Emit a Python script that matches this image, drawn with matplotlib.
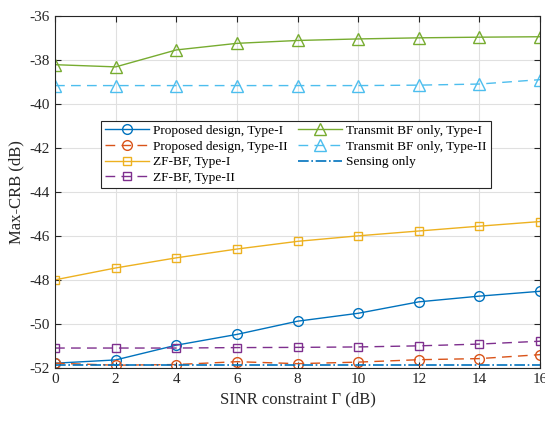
import matplotlib
matplotlib.use("Agg")
import matplotlib.pyplot as plt

plt.rcParams['font.family'] = ['Liberation Serif', 'DejaVu Serif']
plt.rcParams['axes.unicode_minus'] = False

sinr = [0, 2, 4, 6, 8, 10, 12, 14, 16]
proposed_I = [-51.79, -51.64, -50.97, -50.48, -49.88, -49.52, -49.0, -48.74, -48.52]
proposed_II = [-51.79, -51.88, -51.85, -51.72, -51.81, -51.74, -51.63, -51.58, -51.40]
zf_I = [-48.0, -47.46, -47.0, -46.6, -46.25, -46.0, -45.78, -45.56, -45.35]
zf_II = [-51.1, -51.1, -51.1, -51.08, -51.07, -51.05, -51.0, -50.92, -50.79]
tbf_I = [-38.22, -38.32, -37.55, -37.25, -37.12, -37.05, -37.0, -36.97, -36.95]
tbf_II = [-39.17, -39.17, -39.17, -39.17, -39.17, -39.17, -39.15, -39.1, -38.9]
sensing = [-51.87] * 9

fig = plt.figure(figsize=(5.45, 4.4), dpi=100)
ax = fig.add_axes([0.101, 0.164, 0.89, 0.8])

lw = 1.0
ms = 7
dash = (7, 4.5)
ax.plot(sinr, proposed_I, '-', color='#0072BD', marker='o', mfc='none', ms=ms, lw=lw, label='Proposed design, Type-I')
ax.plot(sinr, proposed_II, '--', color='#D95319', marker='o', mfc='none', ms=ms, lw=lw, dashes=dash, label='Proposed design, Type-II')
ax.plot(sinr, zf_I, '-', color='#EDB120', marker='s', mfc='none', ms=6, lw=lw, label='ZF-BF, Type-I')
ax.plot(sinr, zf_II, '--', color='#7E2F8E', marker='s', mfc='none', ms=6, lw=lw, dashes=dash, label='ZF-BF, Type-II')
ax.plot(sinr, tbf_I, '-', color='#77AC30', marker='^', mfc='none', ms=8, lw=lw, label='Transmit BF only, Type-I')
ax.plot(sinr, tbf_II, '--', color='#4DBEEE', marker='^', mfc='none', ms=8, lw=lw, dashes=dash, label='Transmit BF only, Type-II')
ax.plot(sinr, sensing, '-.', color='#0072BD', lw=1.2, label='Sensing only')

ax.set_xlim(0, 16)
ax.set_ylim(-52, -36)
ax.set_xticks(sinr)
ax.set_yticks(range(-52, -35, 2))
ax.grid(True, color='#e0e0e0', lw=0.8)
ax.set_axisbelow(True)
ax.tick_params(direction='in', top=True, right=True, labelsize=11, colors='#262626', length=4)
for s in ax.spines.values():
    s.set_color('#262626')
    s.set_linewidth(0.8)

ax.set_xlabel('SINR constraint Γ (dB)', fontsize=12, color='#262626')
ax.set_ylabel('Max-CRB (dB)', fontsize=12, color='#262626')

leg = ax.legend(ncol=2, loc='upper left', bbox_to_anchor=(0.095, 0.702), borderaxespad=0,
                fontsize=9.6, frameon=True, fancybox=False, edgecolor='#262626', framealpha=1,
                handlelength=3.3, handletextpad=0.3, columnspacing=0.8, labelspacing=0.25,
                borderpad=0.3)
leg.get_frame().set_linewidth(0.8)

fig.savefig('out.png', dpi=100)
